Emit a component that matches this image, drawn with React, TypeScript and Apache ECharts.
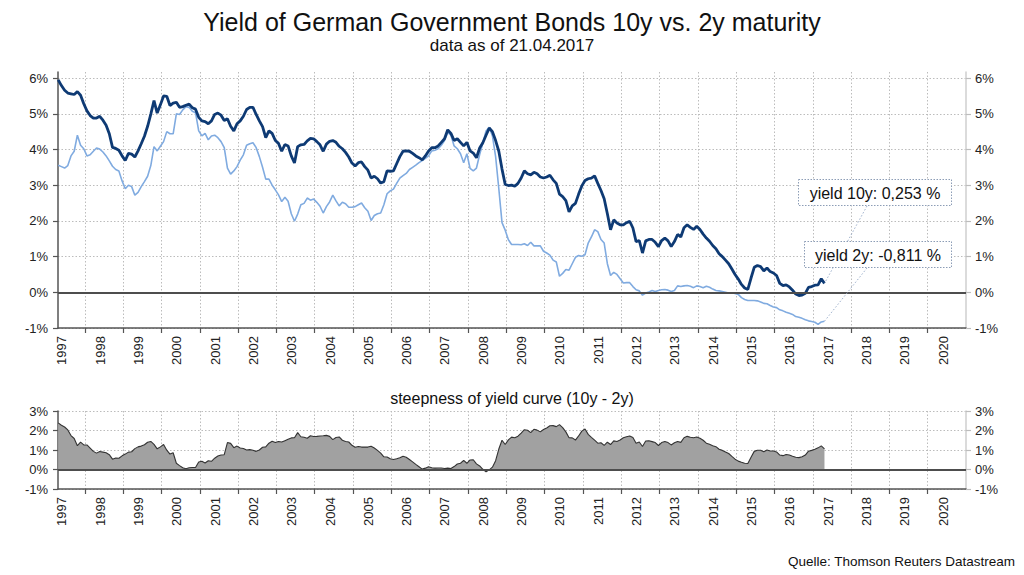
import React, { useEffect, useRef } from "react";
import * as echarts from "echarts";

// ---------------- data (monthly, starting April 1997, as of the 21st) ----------------
const START_YEAR = 1997;
const START_MONTH = 4;

const yield10y = [
  5.95, 5.79, 5.66, 5.58, 5.56, 5.54, 5.62, 5.52, 5.28, 5.08,
  4.95, 4.88, 4.88, 4.93, 4.82, 4.68, 4.44, 4.06, 4.03, 3.98,
  3.82, 3.69, 3.89, 3.87, 3.79, 3.96, 4.16, 4.37, 4.65, 4.99,
  5.37, 5.02, 5.25, 5.50, 5.49, 5.23, 5.30, 5.32, 5.18, 5.20,
  5.24, 5.27, 5.17, 5.13, 4.90, 4.80, 4.78, 4.72, 4.80, 4.98,
  5.02, 4.96, 4.81, 4.86, 4.65, 4.52, 4.72, 4.80, 4.93, 5.12,
  5.18, 5.18, 4.98, 4.80, 4.64, 4.33, 4.52, 4.45, 4.25, 4.17,
  3.95, 4.14, 4.10, 3.82, 3.62, 4.08, 4.13, 4.14, 4.24, 4.31,
  4.30, 4.22, 4.13, 3.95, 4.15, 4.23, 4.25, 4.20, 4.09, 4.02,
  3.92, 3.79, 3.62, 3.54, 3.63, 3.65, 3.52, 3.42, 3.20, 3.25,
  3.18, 3.06, 3.10, 3.40, 3.39, 3.40, 3.60, 3.80, 3.95, 3.96,
  3.95, 3.89, 3.82, 3.77, 3.71, 3.82, 3.96, 4.05, 4.05, 4.10,
  4.20, 4.30, 4.55, 4.45, 4.25, 4.30, 4.20, 4.10, 4.20, 3.96,
  3.90, 3.77, 4.04, 4.19, 4.40, 4.60, 4.50, 4.25, 3.95, 3.45,
  3.02, 2.99, 3.00, 2.97, 3.05, 3.20, 3.40, 3.32, 3.29, 3.36,
  3.32, 3.23, 3.20, 3.23, 3.28, 3.15, 3.05, 2.75, 2.68, 2.57,
  2.25, 2.42, 2.49, 2.75, 2.98, 3.13, 3.18, 3.20, 3.26, 3.05,
  2.85, 2.62, 2.20, 1.75, 2.03, 1.94, 1.89, 1.89, 1.95, 1.99,
  1.80, 1.42, 1.45, 1.10, 1.44, 1.48, 1.48, 1.40, 1.28, 1.45,
  1.52, 1.44, 1.28, 1.42, 1.62, 1.55, 1.81, 1.89, 1.82, 1.76,
  1.85, 1.76, 1.63, 1.52, 1.43, 1.31, 1.22, 1.08, 1.00, 0.90,
  0.80, 0.65, 0.50, 0.37, 0.22, 0.12, 0.08, 0.40, 0.70, 0.75,
  0.72, 0.60, 0.68, 0.58, 0.54, 0.47, 0.25, 0.19, 0.21, 0.15,
  0.06, -0.05, -0.09, -0.08, -0.03, 0.14, 0.16, 0.20, 0.21, 0.38,
  0.25,
];

const yield2y = [
  3.56, 3.52, 3.48, 3.55, 3.82, 3.95, 4.40, 4.12, 4.02, 3.82,
  3.85, 3.95, 4.04, 4.01, 3.93, 3.82, 3.68, 3.53, 3.44, 3.40,
  3.12, 2.90, 3.00, 2.96, 2.72, 2.80, 2.96, 3.10, 3.25, 3.55,
  4.08, 3.96, 4.09, 4.22, 4.50, 4.44, 4.44, 5.00, 4.98, 5.11,
  5.20, 5.18, 5.07, 5.03, 4.52, 4.38, 4.45, 4.27, 4.38, 4.40,
  4.33, 4.22, 4.05, 3.48, 3.31, 3.40, 3.52, 3.70, 3.85, 4.12,
  4.16, 4.19, 4.05, 3.80, 3.50, 3.17, 3.17, 3.00, 2.87, 2.73,
  2.54, 2.66, 2.55, 2.20, 1.99, 2.19, 2.45, 2.49, 2.64, 2.58,
  2.61, 2.52, 2.41, 2.22, 2.40, 2.53, 2.72, 2.56, 2.42, 2.52,
  2.48, 2.38, 2.38, 2.40, 2.45, 2.50, 2.37, 2.27, 2.01, 2.15,
  2.20, 2.22, 2.45, 2.76, 2.84, 2.89, 3.05, 3.20, 3.27, 3.33,
  3.44, 3.50, 3.56, 3.63, 3.69, 3.75, 3.82, 3.96, 3.98, 4.02,
  4.12, 4.25, 4.48, 4.40, 4.10, 4.02, 3.88, 3.63, 3.88, 3.47,
  3.40, 3.48, 3.86, 4.18, 4.52, 4.62, 4.38, 3.80, 2.90, 1.95,
  1.74, 1.47, 1.34, 1.34, 1.34, 1.33, 1.36, 1.31, 1.40, 1.30,
  1.30, 1.30, 1.15, 1.10, 1.04, 0.90, 0.85, 0.45, 0.53, 0.64,
  0.62, 0.80, 0.98, 1.03, 1.01, 1.05, 1.38, 1.55, 1.75, 1.70,
  1.48, 1.38, 0.80, 0.47, 0.56, 0.50, 0.38, 0.26, 0.27, 0.27,
  0.16, 0.07, 0.04, -0.08, -0.02, 0.01, 0.05, 0.02, 0.05, 0.07,
  0.08, 0.06, 0.02, 0.05, 0.18, 0.16, 0.18, 0.19, 0.17, 0.13,
  0.18, 0.16, 0.13, 0.17, 0.14, 0.09, 0.05, 0.04, 0.02, 0.0,
  -0.02, -0.02, -0.03, -0.06, -0.15, -0.20, -0.23, -0.23, -0.23, -0.24,
  -0.27, -0.31, -0.32, -0.37, -0.41, -0.43, -0.49, -0.52, -0.56, -0.59,
  -0.62, -0.68, -0.70, -0.73, -0.77, -0.80, -0.82, -0.84, -0.90, -0.83,
  -0.81,
];

const yearTicks = [
  1998, 1999, 2000, 2001, 2002, 2003, 2004, 2005, 2006, 2007, 2008,
  2009, 2010, 2011, 2012, 2013, 2014, 2015, 2016, 2017, 2018, 2019, 2020,
];
const yearLabels = [
  1997, 1998, 1999, 2000, 2001, 2002, 2003, 2004, 2005, 2006, 2007, 2008,
  2009, 2010, 2011, 2012, 2013, 2014, 2015, 2016, 2017, 2018, 2019, 2020,
];
const pctTicksTop = [-1, 0, 1, 2, 3, 4, 5, 6];
const pctTicksBottom = [-1, 0, 1, 2, 3];

const TITLE = "Yield of German Government Bonds 10y vs. 2y maturity";
const SUBTITLE = "data as of 21.04.2017";
const LOWER_TITLE = "steepness of yield curve (10y - 2y)";
const SOURCE = "Quelle: Thomson Reuters Datastream";
const LABEL_10Y = "yield 10y: 0,253 %";
const LABEL_2Y = "yield 2y: -0,811 %";

// time of each observation as fractional year (21st of each month)
const times = yield10y.map((_, i) => START_YEAR + (START_MONTH - 1 + i + 0.67) / 12);
const spread = yield10y.map((v, i) => +(v - yield2y[i]).toFixed(3));

// ---------------- styles ----------------
const FONT = "'Liberation Sans', Arial, Helvetica, sans-serif";
const LABEL_SHIFT = 0.4;
const X_MIN = 1997.3;
const X_MAX = 2021;

const gridLine = {
  show: true,
  lineStyle: { color: "#bcbcbc", type: [1.5, 2] as any, width: 1 },
};

function makeXAxis(gridIndex: number) {
  return {
    type: "value",
    gridIndex,
    min: X_MIN,
    max: X_MAX,
    axisLine: { show: true, onZero: false, lineStyle: { color: "#555", width: 1.5 } },
    axisTick: {
      show: true,
      inside: false,
      length: 5,
      customValues: yearTicks,
      lineStyle: { color: "#555", width: 1.2 },
    },
    axisLabel: {
      show: true,
      customValues: yearLabels.map((y) => y + LABEL_SHIFT),
      formatter: (v: number) => String(Math.floor(v + 1e-6)),
      rotate: 90,
      margin: 8,
      fontSize: 13,
      fontFamily: FONT,
      color: "#222",
    },
    splitLine: gridLine,
  };
}

function makeYAxes(gridIndex: number, min: number, max: number, ticks: number[]) {
  const label = {
    customValues: ticks,
    formatter: (v: number) => `${Math.round(v)}%`,
    fontSize: 13,
    fontFamily: FONT,
    color: "#222",
  };
  return [
    {
      type: "value",
      gridIndex,
      position: "left",
      min,
      max,
      axisLine: { show: true, onZero: false, lineStyle: { color: "#555", width: 1.5 } },
      axisTick: { show: true, length: 5, customValues: ticks, lineStyle: { color: "#555", width: 1.2 } },
      axisLabel: { ...label, margin: 10 },
      splitLine: gridLine,
    },
    {
      type: "value",
      gridIndex,
      position: "right",
      min,
      max,
      axisLine: { show: true, onZero: false, lineStyle: { color: "#cfcfcf", width: 1.5 } },
      axisTick: { show: true, length: 5, customValues: ticks, lineStyle: { color: "#bdbdbd", width: 1.2 } },
      axisLabel: { ...label, margin: 9 },
      splitLine: { show: false },
    },
  ];
}

const zeroLine = {
  silent: true,
  symbol: ["none", "none"],
  label: { show: false },
  lineStyle: { color: "#4d4d4d", type: "solid", width: 1.8 },
  data: [{ yAxis: 0 }],
};

function text(id: string, x: number, y: number, str: string, size: number, align = "center") {
  return {
    type: "text",
    id,
    x,
    y,
    silent: true,
    z: 120,
    style: {
      text: str,
      fontSize: size,
      fontFamily: FONT,
      fill: "#111",
      align,
      verticalAlign: "middle",
    },
  };
}

export default function App() {
  const ref = useRef<HTMLDivElement>(null);

  useEffect(() => {
    if (!ref.current) return;
    const chart = echarts.init(ref.current, null, { renderer: "svg" });
    const yTop = makeYAxes(0, -1, 6.17, pctTicksTop);
    const yBot = makeYAxes(1, -1, 3, pctTicksBottom);

    chart.setOption({
      animation: false,
      backgroundColor: "#ffffff",
      grid: [
        { left: 58, top: 72, width: 908, height: 256, containLabel: false, outerBoundsMode: "none" },
        { left: 58, top: 411, width: 908, height: 78, containLabel: false, outerBoundsMode: "none" },
      ],
      xAxis: [makeXAxis(0), makeXAxis(1)],
      yAxis: [...yTop, ...yBot],
      series: [
        {
          name: "yield 2y",
          type: "line",
          xAxisIndex: 0,
          yAxisIndex: 0,
          data: times.map((t, i) => [t, yield2y[i]]),
          showSymbol: false,
          symbol: "none",
          lineStyle: { color: "#80abe0", width: 1.6 },
          markLine: zeroLine,
          z: 3,
        },
        {
          name: "yield 10y",
          type: "line",
          xAxisIndex: 0,
          yAxisIndex: 0,
          data: times.map((t, i) => [t, yield10y[i]]),
          showSymbol: false,
          symbol: "none",
          lineStyle: { color: "#0e3a74", width: 2.8 },
          z: 4,
        },
        {
          name: "spread",
          type: "line",
          xAxisIndex: 1,
          yAxisIndex: 2,
          data: times.map((t, i) => [t, spread[i]]),
          showSymbol: false,
          symbol: "none",
          lineStyle: { color: "#333333", width: 1.1 },
          areaStyle: { color: "#a1a1a1", opacity: 1, origin: 0 },
          markLine: zeroLine,
          z: 3,
        },
      ],
    });

    const last = times.length - 1;
    const p10 = chart.convertToPixel({ xAxisIndex: 0, yAxisIndex: 0 }, [times[last], yield10y[last]]) as number[];
    const p2 = chart.convertToPixel({ xAxisIndex: 0, yAxisIndex: 0 }, [times[last], yield2y[last]]) as number[];

    const leaderStyle = { stroke: "#9db0cc", lineWidth: 1, lineDash: [1.5, 2], fill: "none" };
    const boxStyle = { fill: "#ffffff", stroke: "#8c9db6", lineWidth: 1, lineDash: [1.5, 1.5] };

    chart.setOption({
      graphic: [
        text("title", 512, 22, TITLE, 25),
        text("subtitle", 512, 45, SUBTITLE, 17),
        text("lowerTitle", 512, 398, LOWER_TITLE, 16),
        text("source", 1015, 561, SOURCE, 13.5, "right"),
        {
          type: "line",
          id: "lead10",
          silent: true,
          z: 110,
          shape: { x1: 867, y1: 206, x2: p10[0], y2: p10[1] },
          style: leaderStyle,
        },
        {
          type: "line",
          id: "lead2",
          silent: true,
          z: 110,
          shape: { x1: 867, y1: 268, x2: p2[0], y2: p2[1] },
          style: leaderStyle,
        },
        {
          type: "rect",
          id: "box10",
          silent: true,
          z: 115,
          shape: { x: 798.5, y: 179.5, width: 153, height: 26 },
          style: boxStyle,
        },
        {
          type: "rect",
          id: "box2",
          silent: true,
          z: 115,
          shape: { x: 804.5, y: 241.5, width: 147, height: 26 },
          style: boxStyle,
        },
        text("lab10", 875, 193, LABEL_10Y, 16),
        text("lab2", 878, 255, LABEL_2Y, 16),
      ],
    });

    return () => chart.dispose();
  }, []);

  return (
    <div
      ref={ref}
      style={{ position: "fixed", left: 0, top: 0, width: 1024, height: 575, background: "#fff" }}
    />
  );
}
